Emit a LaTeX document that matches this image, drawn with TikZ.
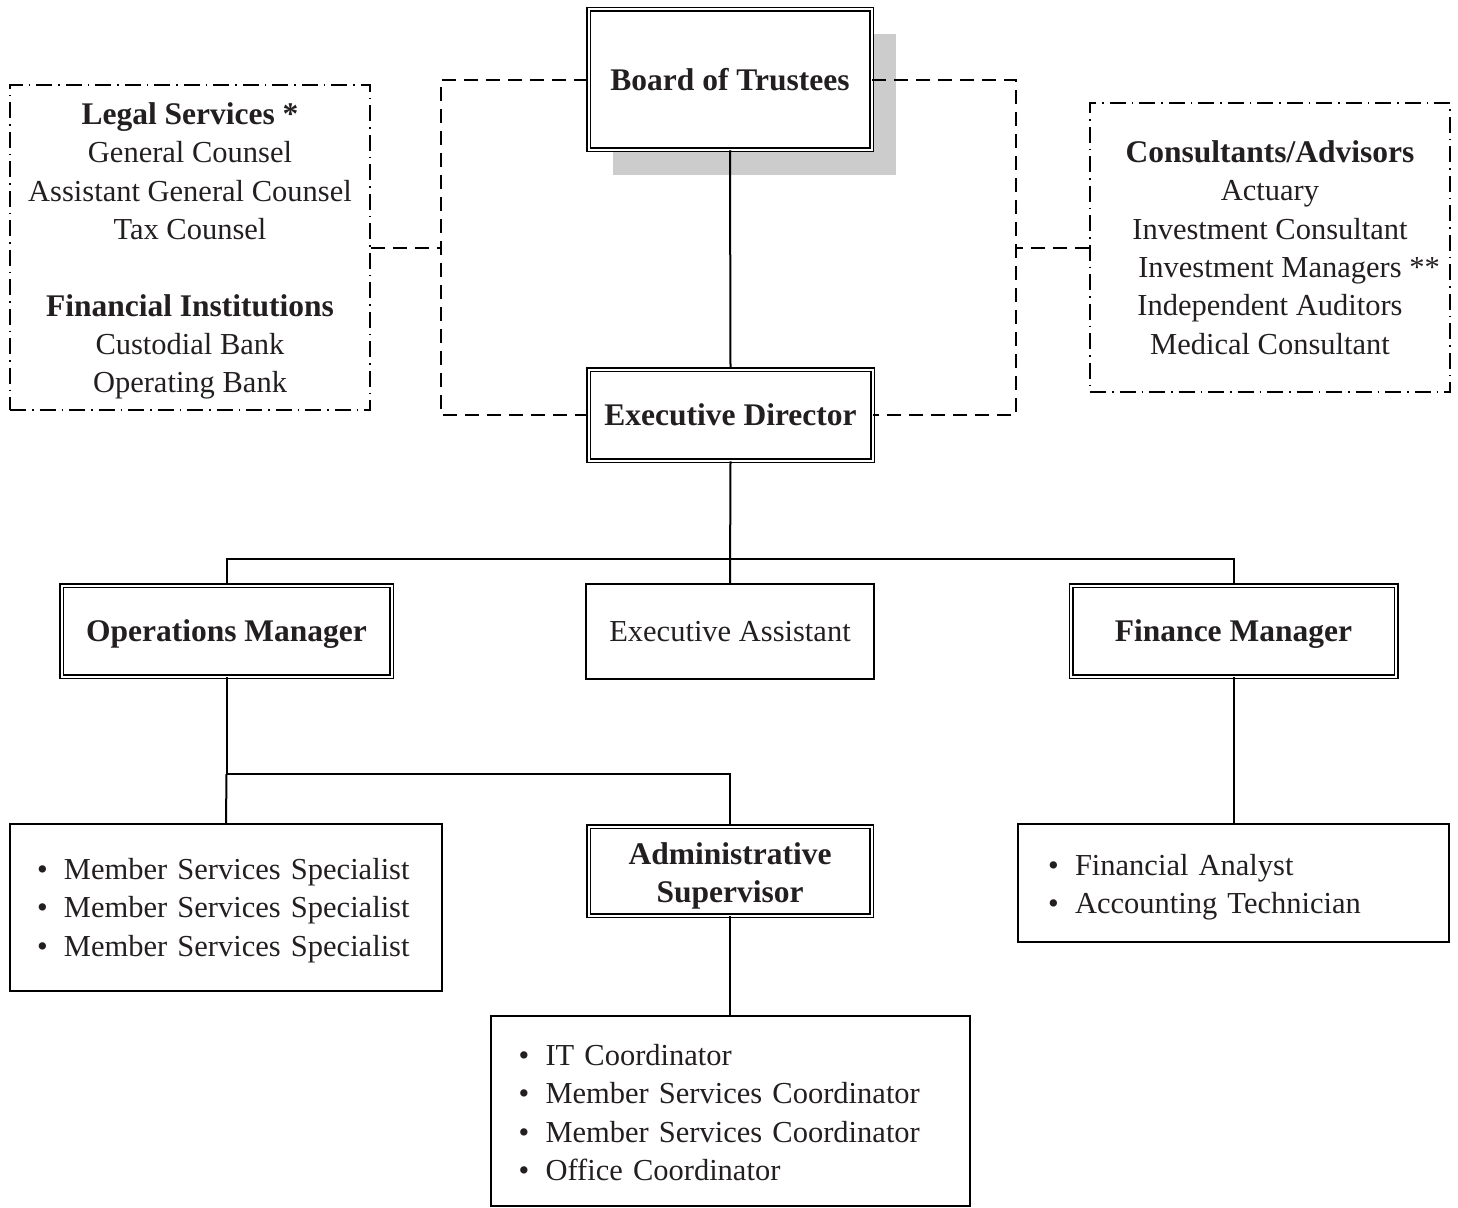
\documentclass[tikz,border=0pt]{standalone}
\usepackage{fontspec}
\setmainfont{Liberation Serif}
\usetikzlibrary{shadows}
\definecolor{inkgray}{HTML}{231F20}
\newcommand{\bulletitem}{\makebox[27pt][l]{\textbullet}}
\newcommand{\boldhead}[1]{{\fontsize{31.5}{38.3}\selectfont\bfseries #1}}
\newcommand{\padtop}[1]{\rule{0pt}{#1}}

\begin{document}
\begin{tikzpicture}[x=1pt,y=-1pt,
    every node/.style={font=\fontsize{30.5}{38.3}\selectfont, text=inkgray, inner sep=0pt, align=center},
    dbox/.style={draw, fill=white, double, double distance=2pt, line width=1.5pt,
                 font=\fontsize{31.5}{38.3}\selectfont\bfseries},
    sbox/.style={draw, line width=2pt},
    listbox/.style={draw, line width=2pt, align=left},
    dotbox/.style={draw, line width=1.6pt, dash pattern=on 16pt off 6pt on 1.5pt off 6pt},
    dashline/.style={line width=2pt, dash pattern=on 14pt off 8pt},
    link/.style={line width=2pt}]
                \useasboundingbox (0,0) rectangle (1458,1207);

                \node[dbox, text depth=0pt, minimum width=283pt, minimum height=140pt,
                      drop shadow={shadow xshift=24pt, shadow yshift=-25pt, opacity=1, fill=black!20}]
                      (board) at (730,79.5) {Board of Trustees};
                \node[dbox, text depth=0pt, minimum width=284pt, minimum height=91pt] (exec) at (730.5,415) {Executive Director};

                \node[dotbox, minimum width=360pt, minimum height=325pt] (legal) at (190,247.5)
                      {\padtop{29pt}\boldhead{Legal Services *}\\ General Counsel\\ Assistant General Counsel\\ Tax Counsel\\ ~\\
                       \boldhead{Financial Institutions}\\ Custodial Bank\\ Operating Bank};
                \node[dotbox, minimum width=360pt, minimum height=289pt] (cons) at (1270,247.5)
                      {\boldhead{Consultants/Advisors}\\ Actuary\\ Investment Consultant\\
                       \hspace*{38pt}Investment Managers **\\ Independent Auditors\\ Medical Consultant};

                \node[dbox, text depth=0pt, minimum width=330pt, minimum height=91pt] (ops) at (226.5,631) {Operations Manager};
                \node[sbox, text depth=0pt, minimum width=288pt, minimum height=95pt] (assist) at (730,631.5) {Executive Assistant};
                \node[dbox, text depth=0pt, minimum width=325pt, minimum height=91pt] (fin) at (1233.5,631) {Finance Manager};

                \node[listbox, text width=378pt, inner xsep=27pt, minimum height=167pt] (mss) at (226,907.5)
                      {\padtop{27pt}\bulletitem Member Services Specialist\\ \bulletitem Member Services Specialist\\
                       \bulletitem Member Services Specialist};
                \node[dbox, minimum width=283pt, minimum height=89pt] (admin) at (730,871)
                      {\padtop{31pt}Administrative\\ Supervisor};
                \node[listbox, text width=423pt, inner xsep=28pt, minimum height=190pt] (itbox) at (730,1111)
                      {\padtop{24pt}\bulletitem IT Coordinator\\ \bulletitem Member Services Coordinator\\
                       \bulletitem Member Services Coordinator\\ \bulletitem Office Coordinator};
                \node[listbox, text width=371pt, inner xsep=30pt, minimum height=118pt] (fa) at (1233.5,883)
                      {\padtop{29pt}\bulletitem Financial Analyst\\ \bulletitem Accounting Technician};

                \coordinate (ltop) at (441,79.5);
                \coordinate (lbot) at (441,415);
                \coordinate (rtop) at (1016,79.5);
                \coordinate (rbot) at (1016,415);
                \coordinate (bus) at (730,559);
                \coordinate (opsbus) at (226.5,774);

                \draw[dashline] (board.west) -- (ltop) -- (lbot) -- (exec.west);
                \draw[dashline] (board.east) -- (rtop) -- (rbot) -- (exec.east);
                \draw[dashline] (legal.east) -- (legal.east -| ltop);
                \draw[dashline] (cons.west) -- (cons.west -| rtop);

                \draw[link] (board.south) -- (exec.north);
                \draw[link] (exec.south) -- (assist.north);
                \draw[link] (ops.north) |- (bus) -| (fin.north);
                \draw[link] (ops.south) -- (opsbus) -| (admin.north);
                \draw[link] (opsbus) -- (mss.north);
                \draw[link] (admin.south) -- (itbox.north);
                \draw[link] (fin.south) -- (fa.north);
\end{tikzpicture}
\end{document}
